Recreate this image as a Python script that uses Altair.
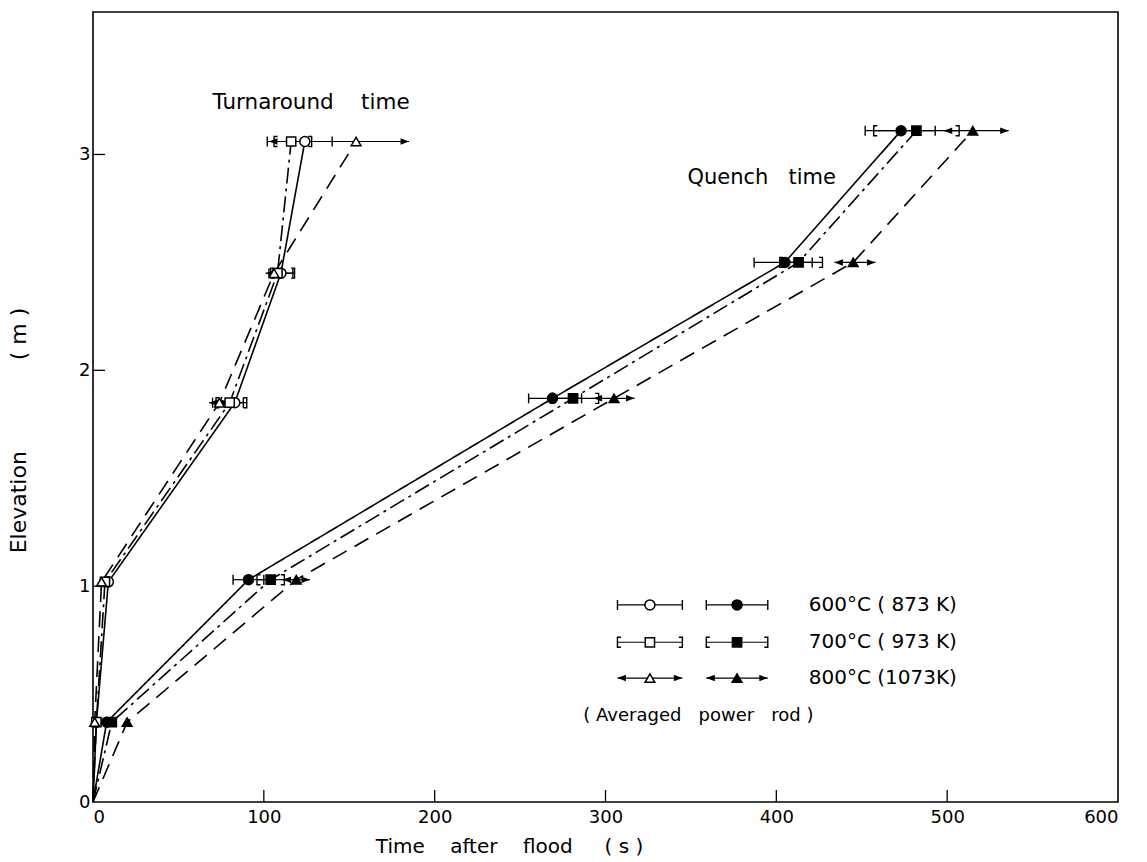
import altair as alt
import pandas as pd

NB = "\u00a0"

# ---------------- data ----------------
temps = ["600", "700", "800"]

# Turnaround time (open symbols)
turn_elev = [0.37, 1.02, 1.85, 2.45, 3.06]
turn_time = {
    "600": [2, 9, 83, 110, 124],
    "700": [2, 7, 80, 108, 116],
    "800": [1, 5, 74, 106, 154],
}
turn_lo = {
    "600": [None, None, 70, 103, 102],
    "700": [None, None, 72, 104, 106],
    "800": [None, None, 68, 101, 103],
}
turn_hi = {
    "600": [None, None, 88, 117, 140],
    "700": [None, None, 90, 118, 128],
    "800": [None, None, 80, 112, 185],
}

# Quench time (filled symbols)
quench_elev = [0.37, 1.03, 1.87, 2.50, 3.11]
quench_time = {
    "600": [8, 91, 269, 405, 473],
    "700": [11, 104, 281, 413, 482],
    "800": [20, 119, 305, 445, 515],
}
quench_lo = {
    "600": [None, 82, 255, 387, 452],
    "700": [None, 96, 268, 402, 457],
    "800": [None, 111, 293, 434, 498],
}
quench_hi = {
    "600": [None, 100, 286, 421, 493],
    "700": [None, 112, 296, 427, 507],
    "800": [None, 127, 317, 458, 536],
}

legend_labels = {
    "600": "600°C" + NB + "(" + NB + "873" + NB + "K)",
    "700": "700°C" + NB + "(" + NB + "973" + NB + "K)",
    "800": "800°C" + NB + "(1073K)",
}
note_text = "(" + NB + "Averaged" + NB * 3 + "power" + NB * 3 + "rod" + NB + ")"
turn_title = "Turnaround" + NB * 4 + "time"
quench_title = "Quench" + NB * 3 + "time"

x_ticks = [0, 100, 200, 300, 400, 500, 600]
y_ticks = [0, 1, 2, 3]

# ---------------- layout (positions in data units) ----------------
legend_rows_y = {"600": 0.913, "700": 0.74, "800": 0.574}
legend_note_y = 0.40
legend_open = (307, 326, 345)
legend_filled = (359, 377, 395)
legend_text_x = 419

# ---------------- build tables ----------------
rows_line, rows_pt, rows_bar, rows_cap = [], [], [], []


def add_bar(temp, y, lo, hi):
    rows_bar.append(dict(y=y, lo=lo, hi=hi))
    rows_cap.append(dict(temp=temp, key=temp + "L", x=lo, y=y))
    rows_cap.append(dict(temp=temp, key=temp + "R", x=hi, y=y))


def add_series(group, temp, elev, times, lo, hi):
    sid = group + temp
    rows_line.append(dict(series=sid, temp=temp, order=0, x=0.0, y=0.0))
    for i, (e, t) in enumerate(zip(elev, times)):
        rows_line.append(dict(series=sid, temp=temp, order=i + 1, x=t, y=e))
        rows_pt.append(dict(group=group, temp=temp, x=t, y=e))
        if lo[i] is not None:
            add_bar(temp, e, lo[i], hi[i])


for t in temps:
    add_series("turn", t, turn_elev, turn_time[t], turn_lo[t], turn_hi[t])
    add_series("quench", t, quench_elev, quench_time[t], quench_lo[t], quench_hi[t])

rows_text = []
for t in temps:
    y = legend_rows_y[t]
    for grp, (lo, mid, hi) in (("turn", legend_open), ("quench", legend_filled)):
        rows_pt.append(dict(group=grp, temp=t, x=mid, y=y))
        add_bar(t, y, lo, hi)
    rows_text.append(dict(text=legend_labels[t], x=legend_text_x, y=y, fs=20))
rows_text.append(dict(text=note_text, x=287, y=legend_note_y, fs=18))
rows_text.append(dict(text=turn_title, x=70, y=3.24, fs=21.5))
rows_text.append(dict(text=quench_title, x=348, y=2.89, fs=21))

lines_df = pd.DataFrame(rows_line)
pts_df = pd.DataFrame(rows_pt)
bars_df = pd.DataFrame(rows_bar)
caps_df = pd.DataFrame(rows_cap)
text_df = pd.DataFrame(rows_text)
yt_df = pd.DataFrame({"v": y_ticks[1:]})
xt_df = pd.DataFrame({"v": x_ticks[1:-1]})

FONT = "DejaVu Sans"
W, H = 1025, 790

xs = alt.Scale(domain=[0, 600], nice=False, zero=False)
ys = alt.Scale(domain=[0, 3.66], nice=False, zero=False)

X = alt.X(
    "x:Q",
    scale=xs,
    axis=alt.Axis(
        values=x_ticks, ticks=False, domain=False, grid=False, format="d",
        labelFontSize=18, labelPadding=6, labelFont=FONT, labelColor="black",
        title="Time" + NB * 4 + "after" + NB * 4 + "flood" + NB * 5 + "( s )",
        titleFont=FONT, titleFontSize=20, titleFontWeight="normal", titleColor="black",
        titleX=416, titleY=34, titleAnchor="middle", titleAlign="center", titleBaseline="top",
    ),
)
Y = alt.Y(
    "y:Q",
    scale=ys,
    axis=alt.Axis(
        values=y_ticks, ticks=False, domain=False, grid=False, format="d",
        labelFontSize=18, labelPadding=3, labelFont=FONT, labelColor="black",
        title="Elevation" + NB * 13 + "(" + NB + "m" + NB + ")",
        titleFont=FONT, titleFontSize=22, titleFontWeight="normal", titleColor="black",
        titleX=-75, titleY=418, titleAlign="center", titleBaseline="middle", titleAngle=270,
    ),
)

lines = alt.Chart(lines_df).mark_line(color="black", strokeWidth=1.6).encode(
    x=X, y=Y,
    detail="series:N",
    order="order:Q",
    strokeDash=alt.StrokeDash(
        "temp:N",
        scale=alt.Scale(domain=temps, range=[[1, 0], [16, 5, 3, 5], [16, 9]]),
        legend=None,
    ),
)

bars = alt.Chart(bars_df).mark_rule(color="black", strokeWidth=1.2).encode(
    x=alt.X("lo:Q", scale=xs), x2="hi:Q", y=alt.Y("y:Q", scale=ys)
)

cap_paths = {
    "600L": ("M0,-1L0,1", False), "600R": ("M0,-1L0,1", False),
    "700L": ("M0.7,-1L0,-1L0,1L0.7,1", False), "700R": ("M-0.7,-1L0,-1L0,1L-0.7,1", False),
    "800L": ("M0,0L1.7,-0.65L1.7,0.65Z", True), "800R": ("M0,0L-1.7,-0.65L-1.7,0.65Z", True),
}
cap_layers = []
for key, (path, fill) in cap_paths.items():
    cap_layers.append(
        alt.Chart(caps_df).transform_filter(f"datum.key == '{key}'").mark_point(
            shape=path, filled=fill, color="black", strokeWidth=1.4, size=100, opacity=1
        ).encode(x=alt.X("x:Q", scale=xs), y=alt.Y("y:Q", scale=ys))
    )

shape_of = {"600": "circle", "700": "square", "800": "triangle-up"}
size_of = {"600": 100, "700": 85, "800": 95}
pt_layers = []
for t in temps:
    for grp, fillc in (("turn", "white"), ("quench", "black")):
        pt_layers.append(
            alt.Chart(pts_df).transform_filter(
                f"datum.temp == '{t}' && datum.group == '{grp}'"
            ).mark_point(
                shape=shape_of[t], filled=True, fill=fillc, stroke="black",
                strokeWidth=1.5, size=size_of[t], opacity=1
            ).encode(x=alt.X("x:Q", scale=xs), y=alt.Y("y:Q", scale=ys))
        )

texts = alt.Chart(text_df).mark_text(
    align="left", baseline="middle", font=FONT, color="black"
).encode(
    x=alt.X("x:Q", scale=xs), y=alt.Y("y:Q", scale=ys),
    text="text:N",
    size=alt.Size("fs:Q", scale=None, legend=None),
)

ytick = alt.Chart(yt_df).mark_rule(color="black", strokeWidth=1.3).encode(
    y=alt.Y("v:Q", scale=ys), x=alt.value(0), x2=alt.value(12)
)
xtick = alt.Chart(xt_df).mark_rule(color="black", strokeWidth=1.3).encode(
    x=alt.X("v:Q", scale=xs), y=alt.value(H), y2=alt.value(H - 12)
)

chart = alt.layer(
    lines, bars, *cap_layers, *pt_layers, texts, ytick, xtick
).properties(
    width=W, height=H,
    padding={"left": 93, "top": 12, "right": 29, "bottom": 60},
    autosize=alt.AutoSizeParams(type="none"),
    background="white",
).configure_view(stroke="black", strokeWidth=1.6)

chart.save("out.html", embed_options={"renderer": "svg", "actions": False})
